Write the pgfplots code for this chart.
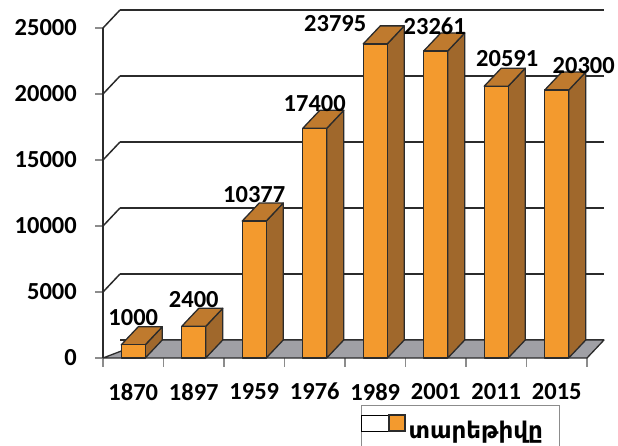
\documentclass[border=0pt]{standalone}
\usepackage{pgfplots}
\pgfplotsset{compat=1.18}
\usepackage{pgfplotstable}
\usepackage{fontspec}
\setmainfont{Carlito}
\newfontfamily\armfont{DejaVu Sans}
\definecolor{frontc}{HTML}{F39A2E}
\definecolor{topc}{HTML}{BF7A2E}
\definecolor{sidec}{HTML}{A0682C}
\definecolor{floorc}{HTML}{A0A0A5}
\definecolor{edge}{HTML}{2B2B2B}
\definecolor{tickc}{HTML}{8C8C8C}
\pgfdeclareplotmark{nothing}{}
\pgfplotstableread{
x year value dx dy
0 1870 1000 0 19
1 1897 2400 0 18
2 1959 10377 0 18
3 1976 17400 0 16
4 1989 23795 -40 12
5 2001 23261 -1 16
6 2011 20591 11 19
7 2015 20300 27 16
}\data
\begin{document}
\begin{tikzpicture}[x=1bp,y=1bp]
\clip (0,0) rectangle (618,446);
\path[use as bounding box] (0,0) rectangle (618,446);
\begin{axis}[
  at={(103bp,88bp)}, anchor=south west,
  scale only axis, width=484bp, height=330bp,
  xmin=-0.5, xmax=7.5, ymin=0, ymax=25000,
  clip=false,
  axis x line*=bottom, axis y line*=left,
  axis line style={-, draw=edge, line width=1.5bp},
  x axis line style={draw=none},
  ytick={0,5000,10000,15000,20000,25000},
  scaled y ticks=false,
  /pgf/number format/assume math mode=true,
  /pgf/number format/1000 sep={},
  tick align=outside,
  major tick length=8bp,
  minor tick length=9bp,
  ytick style={draw=tickc, line width=1.2bp},
  xtick={0,...,7},
  xticklabels={1870,1897,1959,1976,1989,2001,2011,2015},
  major x tick style={draw=none},
  minor xtick={-0.5,0.5,...,7.5},
  minor x tick style={draw=tickc, line width=1.2bp},
  ymajorgrids,
  major grid style={draw=edge, line width=1.5bp, xshift=17bp, yshift=18bp},
  tick label style={font=\fontsize{24.5bp}{28bp}\selectfont\bfseries, inner sep=0pt},
  yticklabel style={anchor=east, xshift=-18bp},
  xticklabel style={anchor=north, yshift=-17bp},
  legend style={at={(0.533,-0.1424)}, anchor=north west, draw=tickc, line width=1bp,
    inner xsep=0pt, inner ysep=9bp, nodes={inner sep=0pt},
    /tikz/every even column/.append style={column sep=0pt}},
]
% floor
\filldraw[fill=floorc, draw=edge, line width=1.3bp, line join=round]
  (axis cs:-0.5,0) -- (axis cs:7.5,0) -- ++(17bp,18bp) -- ++(-484bp,0) -- cycle;
% left side diagonals
\pgfplotsinvokeforeach{5000,10000,15000,20000,25000}{
  \draw[draw=edge, line width=1.5bp] (axis cs:-0.5,#1) -- ++(17bp,18bp);
}
% 3D bars
\addplot[only marks, scatter, forget plot, mark=nothing,
  visualization depends on={rawy/1000 \as \val},
  scatter/@pre marker code/.code={%
    \pgfmathsetmacro\hh{\val*13.2}%
    \pgfmathsetmacro\hb{18-\hh}%
    \filldraw[fill=sidec, draw=edge, line width=1.3bp, line join=round]
      (12bp,0bp) -- (12bp,-\hh bp) -- (29bp,\hb bp) -- (29bp,18bp) -- cycle;
    \filldraw[fill=topc, draw=edge, line width=1.3bp, line join=round]
      (-12bp,0bp) -- (12bp,0bp) -- (29bp,18bp) -- (5bp,18bp) -- cycle;
    \filldraw[fill=frontc, draw=edge, line width=1.3bp, line join=round]
      (-12bp,0bp) rectangle (12bp,-\hh bp);
  },
  scatter/@post marker code/.code={},
] table[x=x, y=value] {\data};
% value labels
\addplot[draw=none, only marks, mark=nothing, forget plot,
  point meta=explicit symbolic,
  visualization depends on={\thisrow{dx} \as \ldx},
  visualization depends on={\thisrow{dy} \as \ldy},
  nodes near coords,
  every node near coord/.append style={anchor=south, inner sep=0pt,
    xshift=\ldx bp, yshift=\ldy bp,
    font=\fontsize{24.5bp}{28bp}\selectfont\bfseries, text=black},
] table[x=x, y=value, meta=value] {\data};
\addlegendimage{legend image code/.code={
  \path (-27bp,-1bp) rectangle (16bp,15bp);
  \draw[fill=frontc, draw=edge, line width=1.2bp] (0bp,-1bp) rectangle (16bp,15bp);}}
\addlegendentry{\hspace{3bp}\makebox[151bp][l]{\armfont\bfseries\fontsize{23bp}{26bp}\selectfont տարեթիվը}}
\end{axis}
\end{tikzpicture}
\end{document}
